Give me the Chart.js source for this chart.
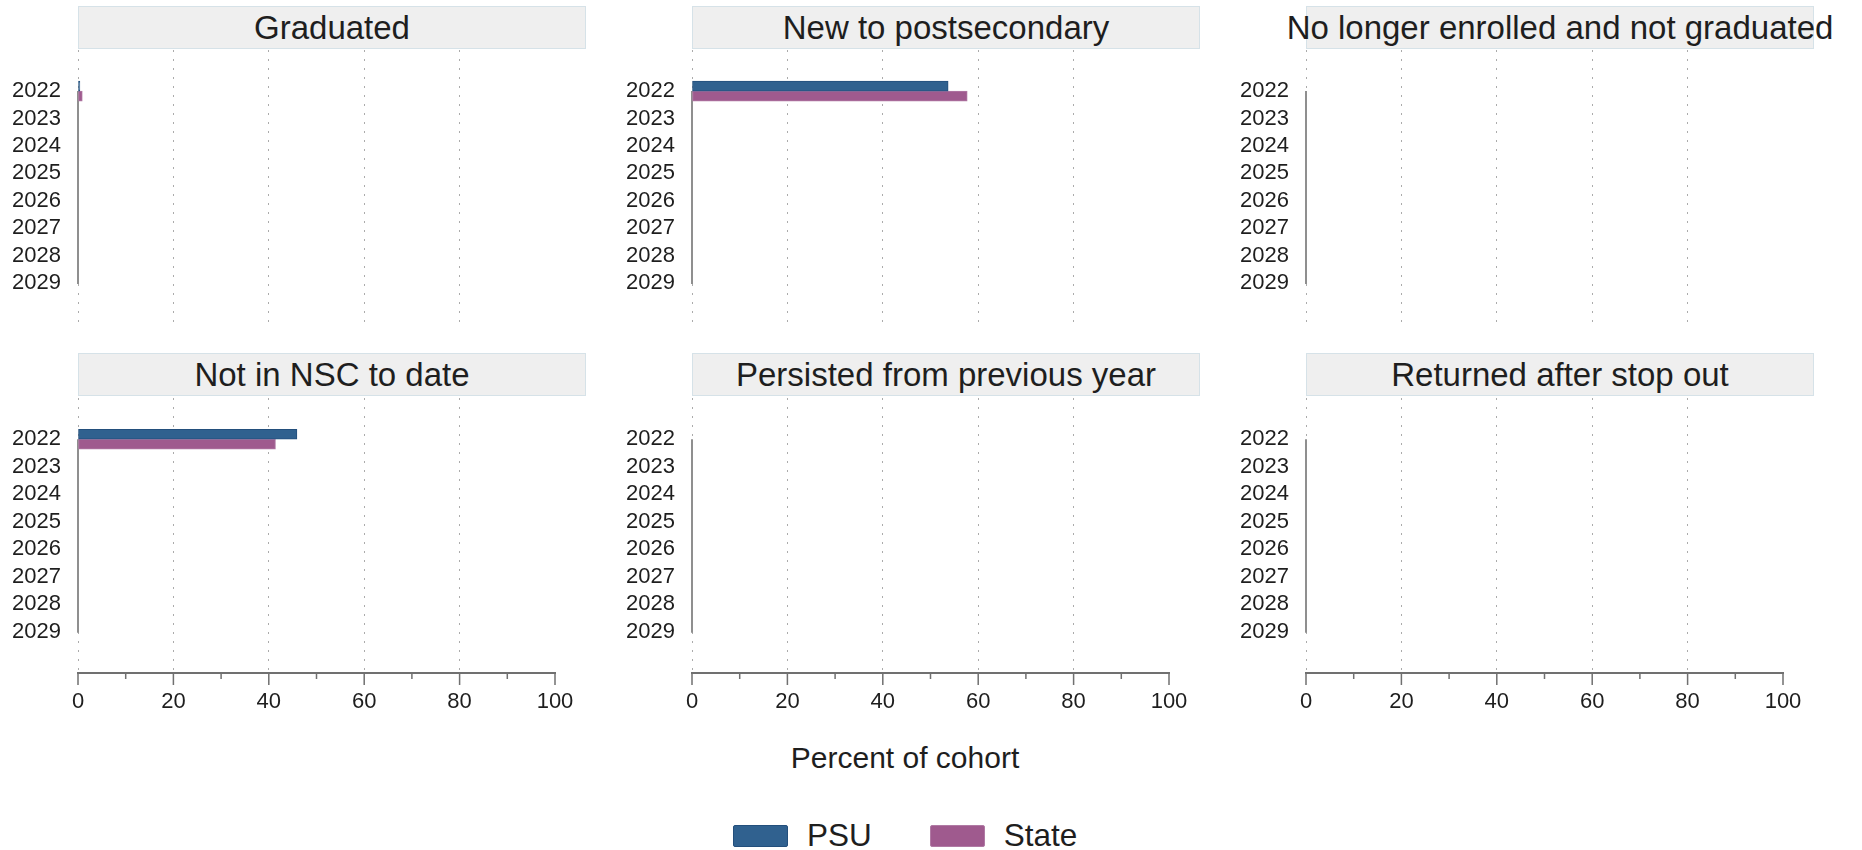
<!DOCTYPE html>
<html>
<head>
<meta charset="utf-8">
<script src="https://cdn.jsdelivr.net/npm/chart.js@4.4.1/dist/chart.umd.min.js"></script>
<style>
  html, body { margin: 0; padding: 0; background: #fff; }
  body { width: 1862px; height: 850px; position: relative; overflow: hidden;
         font-family: "Liberation Sans", Arial, sans-serif; color: #1e1e1e; }
  .strip { position: absolute; box-sizing: border-box; height: 43px; width: 508px;
           background: #efefef; border: 1px solid #d6e2e8;
           display: flex; justify-content: center; align-items: center;
           font-size: 33px; white-space: nowrap; }
  canvas { position: absolute; }
  #xtitle { position: absolute; left: 0; width: 1810px; top: 741px; text-align: center; font-size: 30px; }
  #legend { position: absolute; top: 817px; left: 733px; display: flex; align-items: center; font-size: 31.5px; }
  .key { width: 55px; height: 22px; box-sizing: border-box; border: 1.5px solid; border-radius: 2px; margin-right: 19px; }
  .lab { margin-right: 58px; }
</style>
</head>
<body>
<div id="xtitle">Percent of cohort</div>
<div id="legend"></div>
<script>
// values (percent of cohort); later cohorts have no data yet
const years = [2022, 2023, 2024, 2025, 2026, 2027, 2028, 2029];
const outcomes = [
  "Graduated",
  "New to postsecondary",
  "No longer enrolled and not graduated",
  "Not in NSC to date",
  "Persisted from previous year",
  "Returned after stop out"
];
const seriesNames = ["PSU", "State"];
const psuValues = [
  [0.4, null, null, null, null, null, null, null],
  [53.7, null, null, null, null, null, null, null],
  [0, null, null, null, null, null, null, null],
  [45.9, null, null, null, null, null, null, null],
  [0, null, null, null, null, null, null, null],
  [0, null, null, null, null, null, null, null]
];
const stateValues = [
  [0.9, null, null, null, null, null, null, null],
  [57.7, null, null, null, null, null, null, null],
  [0, null, null, null, null, null, null, null],
  [41.4, null, null, null, null, null, null, null],
  [0, null, null, null, null, null, null, null],
  [0, null, null, null, null, null, null, null]
];
const xTicks = [0, 20, 40, 60, 80, 100];

const fills = ["#30618f", "#9f5a8e"];
const edges = ["#234f7c", "#b07aa4"];
const textColor = "#1e1e1e";
const fontFamily = '"Liberation Sans", Arial, sans-serif';

// legend
const legend = document.getElementById("legend");
seriesNames.forEach((name, i) => {
  const k = document.createElement("div");
  k.className = "key";
  k.style.background = fills[i];
  k.style.borderColor = edges[i];
  const t = document.createElement("div");
  t.className = "lab";
  t.textContent = name;
  legend.appendChild(k);
  legend.appendChild(t);
});

// gray line along zero, from first to last cohort
const zeroLine = {
  id: "zeroLine",
  beforeDatasetsDraw(chart) {
    const { ctx, scales: { x, y } } = chart;
    const px = x.getPixelForValue(0);
    ctx.save();
    ctx.strokeStyle = "#8f8f8f";
    ctx.lineWidth = 2;
    ctx.beginPath();
    ctx.moveTo(px, y.getPixelForValue(years[0]));
    ctx.lineTo(px, y.getPixelForValue(years[years.length - 1]) + 1);
    ctx.stroke();
    ctx.restore();
  }
};

// major + minor tick marks under the x axis (bottom row only)
const tickMarks = {
  id: "tickMarks",
  afterDraw(chart, args, opts) {
    if (!opts.show) return;
    const { ctx, scales: { x }, chartArea } = chart;
    ctx.save();
    ctx.strokeStyle = "#707070";
    ctx.lineWidth = 1.5;
    ctx.beginPath();
    xTicks.forEach((v, i) => {
      const px = x.getPixelForValue(v);
      ctx.moveTo(px, chartArea.bottom);
      ctx.lineTo(px, chartArea.bottom + 12);
      if (i < xTicks.length - 1) {
        const mx = x.getPixelForValue((v + xTicks[i + 1]) / 2);
        ctx.moveTo(mx, chartArea.bottom);
        ctx.lineTo(mx, chartArea.bottom + 6);
      }
    });
    ctx.stroke();
    ctx.restore();
  }
};

const colLeft = [0, 614, 1228];
const rowTop = [50, 398];
const stripTop = [6, 353];

outcomes.forEach((title, p) => {
  const col = p % 3, row = Math.floor(p / 3);
  const bottom = row === 1;

  const strip = document.createElement("div");
  strip.className = "strip";
  strip.style.left = (colLeft[col] + 78) + "px";
  strip.style.top = stripTop[row] + "px";
  strip.textContent = title;
  document.body.appendChild(strip);

  const cv = document.createElement("canvas");
  const w = 585, h = bottom ? 325 : 274;
  cv.width = w; cv.height = h;
  cv.style.left = colLeft[col] + "px";
  cv.style.top = rowTop[row] + "px";
  cv.style.width = w + "px"; cv.style.height = h + "px";
  document.body.appendChild(cv);

  new Chart(cv.getContext("2d"), {
    type: "bar",
    data: {
      labels: years,
      datasets: seriesNames.map((name, i) => ({
        label: name,
        data: (i === 0 ? psuValues : stateValues)[p],
        backgroundColor: fills[i],
        borderColor: edges[i],
        borderWidth: 1,
        borderSkipped: false,
        barThickness: 10
      }))
    },
    options: {
      indexAxis: "y",
      responsive: false,
      animation: false,
      devicePixelRatio: 1,
      layout: { padding: { left: 0, right: 30, top: 0, bottom: 0 } },
      plugins: {
        legend: { display: false },
        tooltip: { enabled: false },
        tickMarks: { show: bottom }
      },
      scales: {
        x: {
          type: "linear",
          min: 0,
          max: 100,
          afterBuildTicks: (s) => { s.ticks = xTicks.map((v) => ({ value: v })); },
          afterFit: (s) => {
            s.height = bottom ? 50 : 0;
            s.paddingLeft = 0; s.paddingRight = 0;
          },
          grid: {
            drawTicks: false,
            lineWidth: 1,
            color: (c) => (c.tick && c.tick.value === 100 ? "rgba(0,0,0,0)" : "#ababab")
          },
          border: { display: bottom, color: "#707070", width: 2, dash: [2, 7] },
          ticks: {
            display: bottom,
            padding: 16,
            color: textColor,
            font: { family: fontFamily, size: 22 },
            callback: (v) => String(v)
          }
        },
        y: {
          type: "linear",
          reverse: true,
          offset: false,
          min: years[0] - 1.5,
          max: years[years.length - 1] + 1.5,
          afterBuildTicks: (s) => { s.ticks = years.map((v) => ({ value: v })); },
          afterFit: (s) => {
            s.width = 78;
            s.paddingTop = 0; s.paddingBottom = 0;
          },
          grid: { display: false, drawTicks: false },
          border: { display: false },
          ticks: {
            padding: 17,
            color: textColor,
            font: { family: fontFamily, size: 22 },
            callback: (v) => String(v)
          }
        }
      }
    },
    plugins: [zeroLine, tickMarks]
  });
});
</script>
</body>
</html>
